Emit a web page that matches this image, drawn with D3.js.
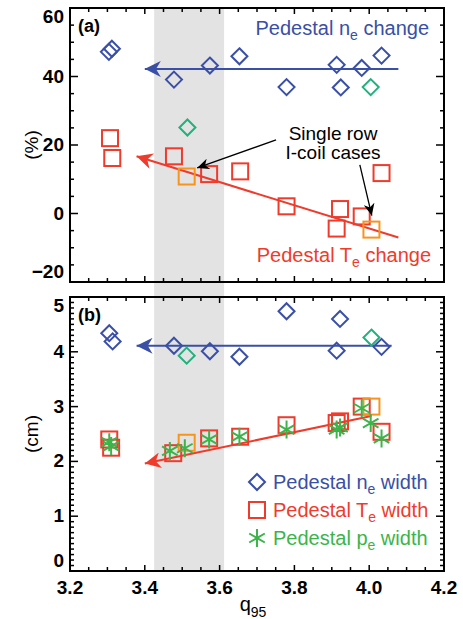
<!DOCTYPE html>
<html>
<head>
<meta charset="utf-8">
<script src="https://cdn.jsdelivr.net/npm/d3@7"></script>
<style>
  body { margin: 0; background: #fff; }
  text { font-family: "Liberation Sans", Arial, Helvetica, sans-serif; }
</style>
</head>
<body>
<svg id="chart" width="463" height="619"></svg>
<script>
// ---- data: [q95, value] ----
// panel (a): pedestal change, %
const neChange = [[3.304, 47.2], [3.312, 48.1], [3.478, 39.1], [3.574, 43.2], [3.653, 45.9],
  [3.779, 36.9], [3.913, 43.4], [3.924, 36.8], [3.980, 42.5], [4.033, 46.1]];
const neChangeGreen = [[3.514, 25.1], [4.004, 36.9]];
const teChange = [[3.307, 22.0], [3.313, 16.2], [3.478, 16.7], [3.572, 11.5], [3.655, 12.3],
  [3.779, 2.1], [3.922, 1.3], [3.913, -4.4], [3.980, -0.85], [4.033, 11.8]];
const teChangeSingleRow = [[3.512, 10.8], [4.006, -4.7]];
const neChangeTrend = [[4.078, 42.2], [3.400, 42.2]];
const teChangeTrend = [[4.078, -7.0], [3.378, 16.7]];
// annotation arrows (tail -> tip)
const annotArrows = [[[3.751, 21.5], [3.540, 13.3]], [[3.975, 14.2], [4.007, -0.6]]];

// panel (b): pedestal width, cm
const neWidth = [[3.305, 4.34], [3.314, 4.19], [3.478, 4.11], [3.574, 4.01], [3.653, 3.91],
  [3.779, 4.74], [3.922, 4.60], [3.913, 4.02], [4.033, 4.09]];
const neWidthGreen = [[3.512, 3.93], [4.006, 4.26]];
const teWidth = [[3.305, 2.40], [3.310, 2.25], [3.476, 2.15], [3.572, 2.42], [3.655, 2.45],
  [3.779, 2.66], [3.913, 2.70], [3.922, 2.73], [3.980, 3.00], [4.033, 2.54]];
const teWidthSingleRow = [[3.512, 2.34], [4.006, 3.00]];
const peWidth = [[3.305, 2.35], [3.310, 2.28], [3.467, 2.19], [3.507, 2.24], [3.572, 2.40],
  [3.653, 2.45], [3.779, 2.58], [3.913, 2.58], [3.922, 2.62], [3.980, 2.97], [4.004, 2.70], [4.033, 2.42]];
const neWidthTrend = [[4.060, 4.11], [3.378, 4.11]];
const teWidthTrend = [[4.006, 2.83], [3.400, 1.96]];

const band = [3.425, 3.612];
const xTicks = [3.2, 3.4, 3.6, 3.8, 4.0, 4.2];
const yTicksA = [-20, 0, 20, 40, 60];
const yTicksB = [0, 1, 2, 3, 4, 5];

const blue = '#3a4fa6', red = '#ef3b2c', orange = '#f7941d', teal = '#22b07d', green = '#3bb54a';

const svg = d3.select('#chart');
const x = d3.scaleLinear().domain([3.2, 4.2]).range([70, 444]);
const yA = d3.scaleLinear().domain([-20, 60]).range([282, 8]);
const yB = d3.scaleLinear().domain([0, 5]).range([571, 297]);

// arrowhead markers
const defs = svg.append('defs');
function arrowMarker(id, color, len, wid) {
  defs.append('marker')
    .attr('id', id)
    .attr('markerUnits', 'userSpaceOnUse')
    .attr('viewBox', `${-len} ${-wid / 2} ${len} ${wid}`)
    .attr('refX', 0).attr('refY', 0)
    .attr('markerWidth', len).attr('markerHeight', wid)
    .attr('orient', 'auto')
    .append('path')
    .attr('d', `M0,0 L${-len},${-wid / 2} L${-len * 0.7},0 L${-len},${wid / 2} Z`)
    .attr('fill', color);
}
arrowMarker('arBlue', blue, 16, 16);
arrowMarker('arRed', red, 16, 16);
arrowMarker('arBlack', '#000', 12, 11);

// grey band behind both panels
svg.append('rect')
  .attr('x', x(band[0])).attr('width', x(band[1]) - x(band[0]))
  .attr('y', yA(60)).attr('height', yB(0) - yA(60))
  .attr('fill', '#e3e3e3');

function frame(y, minorStep, labelShift) {
  const g = svg.append('g');
  const [y0, y1] = y.range();
  const xm = d3.range(3.2, 4.2001, 0.05);
  xm.forEach((t, i) => {
    const len = i % 4 === 0 ? 6 : 4;
    g.append('line').attr('x1', x(t)).attr('x2', x(t)).attr('y1', y0).attr('y2', y0 - len);
    g.append('line').attr('x1', x(t)).attr('x2', x(t)).attr('y1', y1).attr('y2', y1 + len);
  });
  const [d0, d1] = y.domain();
  const n = Math.round((d1 - d0) / minorStep);
  for (let i = 0; i <= n; i++) {
    const v = d0 + i * minorStep;
    const major = Math.abs(v - Math.round(v / (minorStep * 4)) * minorStep * 4) < 1e-6 && minorStep >= 1
      || (minorStep < 1 && Math.abs(v - Math.round(v)) < 1e-6);
    const len = major ? 8 : 4;
    g.append('line').attr('x1', 70).attr('x2', 70 + len).attr('y1', y(v)).attr('y2', y(v));
    g.append('line').attr('x1', 444).attr('x2', 444 - len).attr('y1', y(v)).attr('y2', y(v));
  }
  g.selectAll('line').attr('stroke', '#000').attr('stroke-width', 1.5);
  g.append('rect').attr('x', 70).attr('y', y1).attr('width', 374).attr('height', y0 - y1)
    .attr('fill', 'none').attr('stroke', '#000').attr('stroke-width', 2);
}
frame(yA, 5);
frame(yB, 0.1);

// y tick labels
function yLabels(y, ticks, fmt) {
  const [lo, hi] = y.domain();
  svg.append('g').selectAll('text').data(ticks).join('text')
    .attr('x', 64)
    .attr('y', d => y(d) + 6 + (d === hi ? 9 : d === lo ? -10 : 0))
    .attr('text-anchor', 'end')
    .attr('font-size', 19).attr('font-weight', 'bold')
    .text(fmt);
}
yLabels(yA, yTicksA, d => d < 0 ? '\u2212' + Math.abs(d) : d);
yLabels(yB, yTicksB, d => d);

// x tick labels
svg.append('g').selectAll('text').data(xTicks).join('text')
  .attr('x', d => x(d)).attr('y', 594)
  .attr('text-anchor', 'middle')
  .attr('font-size', 19).attr('font-weight', 'bold')
  .text(d => d.toFixed(1));

// axis titles
svg.append('text').attr('transform', `translate(38,${yA(20)}) rotate(-90)`)
  .attr('text-anchor', 'middle').attr('font-size', 19).text('(%)');
svg.append('text').attr('transform', `translate(38,${yB(2.5)}) rotate(-90)`)
  .attr('text-anchor', 'middle').attr('font-size', 19).text('(cm)');
const xt = svg.append('text').attr('x', 253).attr('y', 611).attr('text-anchor', 'middle').attr('font-size', 20);
xt.append('tspan').text('q');
xt.append('tspan').attr('dy', 6).attr('font-size', 14).text('95');

// panel tags
svg.append('text').attr('x', 78).attr('y', 32).attr('font-size', 18).attr('font-weight', 'bold').text('(a)');
svg.append('text').attr('x', 78).attr('y', 321).attr('font-size', 18).attr('font-weight', 'bold').text('(b)');

// trend arrows
const line = y => d3.line().x(d => x(d[0])).y(d => y(d[1]));
function trend(data, y, color, marker) {
  svg.append('path').datum(data).attr('d', line(y))
    .attr('fill', 'none').attr('stroke', color).attr('stroke-width', 2)
    .attr('marker-end', `url(#${marker})`);
}
trend(neChangeTrend, yA, blue, 'arBlue');
trend(teChangeTrend, yA, red, 'arRed');
trend(neWidthTrend, yB, blue, 'arBlue');
trend(teWidthTrend, yB, red, 'arRed');

// markers
function diamonds(data, y, color) {
  svg.append('g').selectAll('path').data(data).join('path')
    .attr('transform', d => `translate(${x(d[0])},${y(d[1])})`)
    .attr('d', 'M0,-8L8,0L0,8L-8,0Z')
    .attr('fill', 'none').attr('stroke', color).attr('stroke-width', 2);
}
function squares(data, y, color) {
  svg.append('g').selectAll('rect').data(data).join('rect')
    .attr('x', d => x(d[0]) - 8).attr('y', d => y(d[1]) - 8)
    .attr('width', 16).attr('height', 16)
    .attr('fill', 'none').attr('stroke', color).attr('stroke-width', 2);
}
const starPath = 'M0,-9L0,9M-7.8,-4.5L7.8,4.5M-7.8,4.5L7.8,-4.5';
function stars(data, y, color) {
  svg.append('g').selectAll('path').data(data).join('path')
    .attr('transform', d => `translate(${x(d[0])},${y(d[1])})`)
    .attr('d', starPath)
    .attr('fill', 'none').attr('stroke', color).attr('stroke-width', 2);
}

diamonds(neChange, yA, blue);
diamonds(neChangeGreen, yA, teal);
squares(teChange, yA, red);
squares(teChangeSingleRow, yA, orange);

squares(teWidth, yB, red);
squares(teWidthSingleRow, yB, orange);
stars(peWidth, yB, green);
diamonds(neWidth, yB, blue);
diamonds(neWidthGreen, yB, teal);

// annotation
annotArrows.forEach(a => {
  svg.append('path').datum(a).attr('d', line(yA))
    .attr('stroke', '#000').attr('stroke-width', 1.3).attr('fill', 'none')
    .attr('marker-end', 'url(#arBlack)');
});
svg.append('text').attr('x', 333).attr('y', 140).attr('text-anchor', 'middle').attr('font-size', 19).text('Single row');
svg.append('text').attr('x', 333).attr('y', 159).attr('text-anchor', 'middle').attr('font-size', 19).text('I-coil cases');

// series labels
function subLabel(xp, yp, pre, sub, post, color, anchor) {
  const t = svg.append('text').attr('x', xp).attr('y', yp).attr('fill', color)
    .attr('font-size', 20).attr('text-anchor', anchor || 'start');
  t.append('tspan').text(pre);
  t.append('tspan').attr('dy', 5).attr('font-size', 14).text(sub);
  t.append('tspan').attr('dy', -5).text(post);
}
subLabel(429, 35, 'Pedestal n', 'e', ' change', blue, 'end');
subLabel(431, 262, 'Pedestal T', 'e', ' change', red, 'end');

// legend
const legendItems = [
  { label: ['Pedestal n', 'e', ' width'], color: blue, kind: 'diamond' },
  { label: ['Pedestal T', 'e', ' width'], color: red, kind: 'square' },
  { label: ['Pedestal p', 'e', ' width'], color: green, kind: 'star' }
];
legendItems.forEach((it, i) => {
  const cy = 482 + i * 28;
  const g = svg.append('g').attr('transform', `translate(257,${cy})`)
    .attr('fill', 'none').attr('stroke', it.color).attr('stroke-width', 2);
  if (it.kind === 'diamond') g.append('path').attr('d', 'M0,-8L8,0L0,8L-8,0Z');
  if (it.kind === 'square') g.append('rect').attr('x', -8).attr('y', -8).attr('width', 16).attr('height', 16);
  if (it.kind === 'star') g.append('path').attr('d', starPath);
  subLabel(273, cy + 7, it.label[0], it.label[1], it.label[2], it.color);
});
</script>
</body>
</html>
